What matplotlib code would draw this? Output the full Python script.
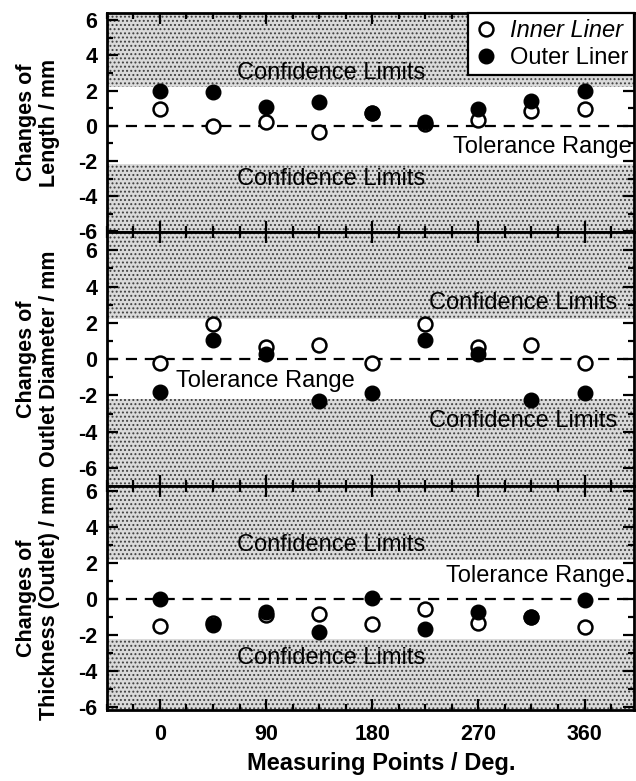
import matplotlib.pyplot as plt
from matplotlib.ticker import MultipleLocator

plt.rcParams['font.family'] = ['Liberation Sans', 'DejaVu Sans']
plt.rcParams['axes.unicode_minus'] = False
plt.rcParams['hatch.linewidth'] = 0.9
plt.rcParams['hatch.color'] = '#444444'

# measuring points (degrees)
angles = [0, 45, 90, 135, 180, 225, 270, 315, 360]

# changes of length / mm
length_inner = [0.95, 0.0, 0.2, -0.35, 0.7, 0.1, 0.35, 0.85, 0.95]
length_outer = [2.0, 1.9, 1.05, 1.35, 0.7, 0.2, 0.95, 1.4, 2.0]

# changes of outlet diameter / mm
diam_inner = [-0.24, 1.93, 0.68, 0.78, -0.24, 1.93, 0.68, 0.78, -0.24]
diam_outer = [-1.8, 1.05, 0.3, -2.3, -1.85, 1.05, 0.3, -2.28, -1.85]

# changes of thickness (outlet) / mm
thick_inner = [-1.5, -1.3, -0.85, -0.8, -1.35, -0.55, -1.3, -1.0, -1.55]
thick_outer = [0.0, -1.42, -0.73, -1.8, 0.05, -1.65, -0.7, -1.0, -0.05]

conf_limit = 2.2

panels = [
    (length_inner, length_outer, "Changes of\nLength / mm", (-6.05, 6.4)),
    (diam_inner, diam_outer, "Changes of\nOutlet Diameter / mm", (-7, 7)),
    (thick_inner, thick_outer, "Changes of\nThickness (Outlet) / mm", (-6.15, 6.3)),
]

fig = plt.figure(figsize=(6.36, 7.81), dpi=100)
gs = fig.add_gridspec(3, 1, height_ratios=[218, 253, 223], hspace=0,
                      left=0.168, right=0.997, top=0.983, bottom=0.091)

axes = []
for i, (inner, outer, ylab, ylim) in enumerate(panels):
    ax = fig.add_subplot(gs[i])
    axes.append(ax)
    ax.set_xlim(-45, 402)
    ax.set_ylim(*ylim)

    # stippled confidence regions
    ax.axhspan(conf_limit, ylim[1], facecolor='#dadada', edgecolor='#404040',
               hatch='....', linewidth=0, zorder=0)
    ax.axhspan(ylim[0], -conf_limit, facecolor='#dadada', edgecolor='#404040',
               hatch='....', linewidth=0, zorder=0)

    ax.axhline(0, color='black', lw=1.6, ls=(0, (5, 3.5)), zorder=1)

    ax.plot(angles, inner, 'o', ms=10, mfc='white', mec='black', mew=1.8,
            ls='none', zorder=3, label='Inner Liner')
    ax.plot(angles, outer, 'o', ms=10.5, mfc='black', mec='black',
            ls='none', zorder=4, label='Outer Liner')

    ax.set_ylabel(ylab, fontsize=15.5, fontweight='bold', labelpad=13,
                  linespacing=1.1)
    ax.set_yticks([-6, -4, -2, 0, 2, 4, 6])
    ax.yaxis.set_minor_locator(MultipleLocator(1))
    ax.set_xticks([0, 90, 180, 270, 360])
    ax.xaxis.set_minor_locator(MultipleLocator(22.5))
    ax.tick_params(which='both', direction='in', top=True, right=True,
                   width=1.6)
    ax.tick_params(which='major', length=8, labelsize=15.5)
    ax.tick_params(axis='y', pad=7)
    ax.tick_params(axis='x', pad=10)
    ax.tick_params(which='minor', length=4)
    for lab in ax.get_yticklabels() + ax.get_xticklabels():
        lab.set_fontweight('bold')
    for sp in ax.spines.values():
        sp.set_linewidth(2)
    if i < 2:
        ax.tick_params(labelbottom=False)

txt = dict(fontsize=17, zorder=5)
a1, a2, a3 = axes
a1.text(65, 3.0, "Confidence Limits", ha='left', va='center', **txt)
a1.text(65, -3.0, "Confidence Limits", ha='left', va='center', **txt)
a1.text(400, -1.2, "Tolerance Range", ha='right', va='center', **txt)

a2.text(228, 3.1, "Confidence Limits", ha='left', va='center', **txt)
a2.text(228, -3.4, "Confidence Limits", ha='left', va='center', **txt)
a2.text(14, -1.2, "Tolerance Range", ha='left', va='center', **txt)

a3.text(65, 3.0, "Confidence Limits", ha='left', va='center', **txt)
a3.text(65, -3.25, "Confidence Limits", ha='left', va='center', **txt)
a3.text(400, 1.3, "Tolerance Range.", ha='right', va='center', **txt)

leg = a1.legend(loc='upper right', fontsize=17, frameon=True, fancybox=False,
                edgecolor='black', framealpha=1, borderaxespad=0.0,
                handletextpad=0.5, borderpad=0.25, handlelength=1.0,
                labelspacing=0.2)
leg.get_frame().set_linewidth(1.6)
leg.get_texts()[0].set_fontstyle('italic')

a3.set_xlabel("Measuring Points / Deg.", fontsize=17, fontweight='bold',
              labelpad=4)
a3.xaxis.set_label_coords(0.52, -0.19)
fig.align_ylabels(axes)

plt.savefig('out.png', dpi=100)
